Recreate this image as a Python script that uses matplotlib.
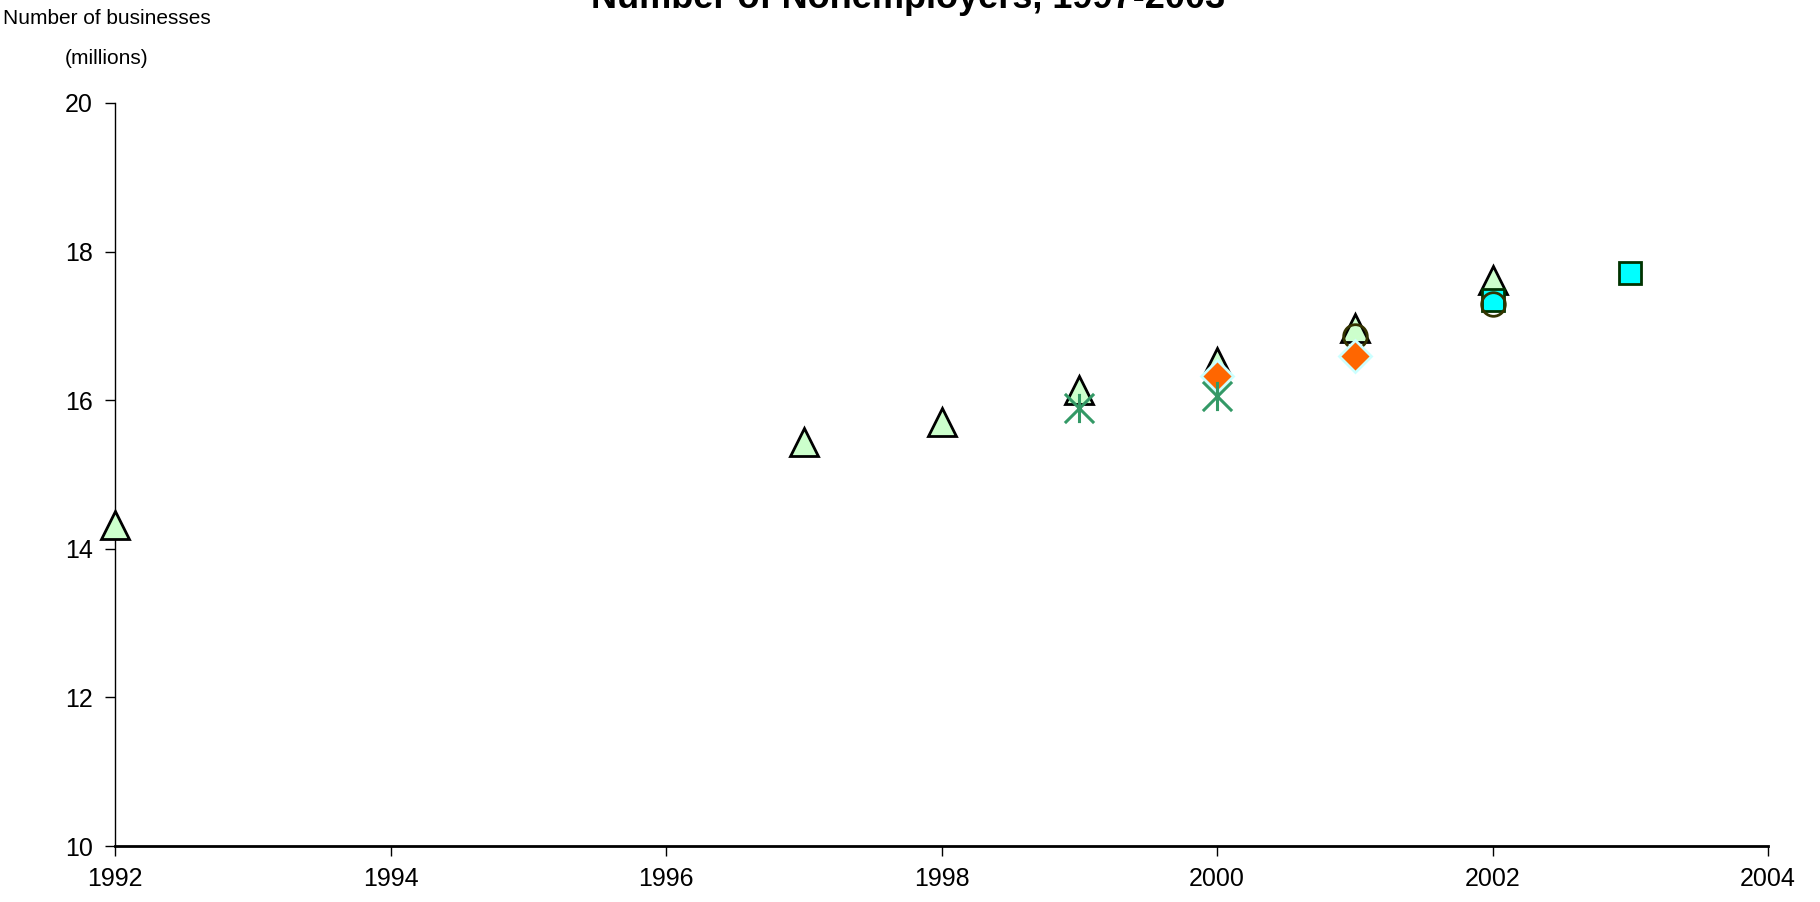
import matplotlib.pyplot as plt
import numpy as np
from matplotlib.path import Path

plt.rcParams['font.family'] = ['Liberation Sans', 'DejaVu Sans']

# nonemployer counts (millions) by source series
tri_years = [1992, 1997, 1998, 1999, 2000, 2001, 2002]
tri_vals = [14.32, 15.44, 15.71, 16.14, 16.52, 16.97, 17.62]

ast_years = [1999, 2000]
ast_vals = [15.89, 16.06]

dia_years = [2000, 2001]
dia_vals = [16.33, 16.59]

circ_years = [2001, 2002]
circ_vals = [16.86, 17.29]

sq_years = [2002, 2003]
sq_vals = [17.35, 17.71]

x_ticks = [1992, 1994, 1996, 1998, 2000, 2002, 2004]
y_ticks = [10, 12, 14, 16, 18, 20]

# excel style asterisk: vertical bar plus an X
asterisk = Path([(0, -1), (0, 1), (-1, -1), (1, 1), (-1, 1), (1, -1)],
                [Path.MOVETO, Path.LINETO, Path.MOVETO, Path.LINETO, Path.MOVETO, Path.LINETO])

fig = plt.figure(figsize=(18.2, 9.02), dpi=100)
ax = fig.add_axes([115/1820, 1-846/902, (1768-115)/1820, (846-103)/902])

ax.plot(tri_years, tri_vals, linestyle='none', marker='^', ms=20, mfc='#CCFFCC', mec='black', mew=2, zorder=3, clip_on=False)
ax.plot(sq_years, sq_vals, linestyle='none', marker='s', ms=16, mfc='#00FFFF', mec='#003300', mew=2, zorder=4, clip_on=False)
ax.plot(circ_years, circ_vals, linestyle='none', marker='o', ms=17, mfc='none', mec='#333300', mew=2, zorder=5, clip_on=False)
ax.plot(dia_years, dia_vals, linestyle='none', marker='D', ms=16, mfc='#FF6600', mec='#CCFFFF', mew=2, zorder=6, clip_on=False)
ax.plot(ast_years, ast_vals, linestyle='none', marker=asterisk, ms=21, mfc='none', mec='#339966', mew=2.2, zorder=7, clip_on=False)

ax.set_xlim(1992, 2004)
ax.set_ylim(10, 20)
ax.set_xticks(x_ticks)
ax.set_yticks(y_ticks)
ax.tick_params(axis='both', labelsize=18, direction='out', color='black')
ax.tick_params(axis='x', length=7, width=1, pad=8)
ax.tick_params(axis='y', length=7, width=1, pad=9)

ax.spines['top'].set_visible(False)
ax.spines['right'].set_visible(False)
ax.spines['left'].set_linewidth(1)
ax.spines['bottom'].set_linewidth(2)

fig.text(0.499, 1-8/902, 'Number of Nonemployers, 1997-2003', ha='center', va='baseline',
         fontsize=26, fontweight='bold')
fig.text(107/1820, 1-18/902, 'Number of businesses', ha='center', va='center', fontsize=15)
fig.text(107/1820, 1-59/902, '(millions)', ha='center', va='center', fontsize=15)

plt.savefig('out.png', dpi=100)
